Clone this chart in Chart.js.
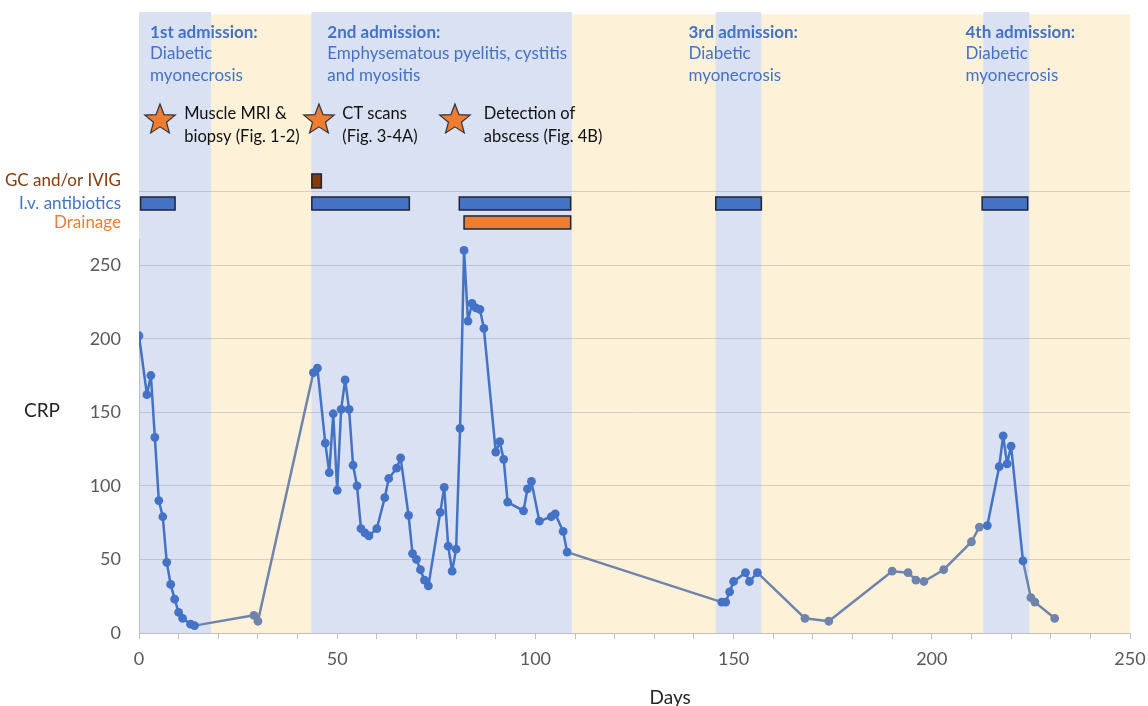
<!DOCTYPE html>
<html>
<head>
<meta charset="utf-8">
<script src="https://cdn.jsdelivr.net/npm/chart.js@4.4.0/dist/chart.umd.min.js"></script>
<style>
html,body{margin:0;padding:0;background:#ffffff;}
#wrap{width:1148px;height:706px;position:relative;}
</style>
</head>
<body>
<div id="wrap"><canvas id="c" width="1148" height="706"></canvas></div>
<script>
// ---------- DATA ----------
const days = [0,2,3,4,5,6,7,8,9,10,11,13,14,29,30,
  44,45,47,48,49,50,51,52,53,54,55,56,57,58,60,62,63,65,66,68,69,70,71,72,73,
  76,77,78,79,80,81,82,83,84,85,86,87,90,91,92,93,97,98,99,101,104,105,107,108,
  147,148,149,150,153,154,156,168,174,190,194,196,198,203,210,212,214,
  217,218,219,220,223,225,226,231];
const crp = [202,162,175,133,90,79,48,33,23,14,10,6,5,12,8,
  177,180,129,109,149,97,152,172,152,114,100,71,68,66,71,92,105,112,119,80,54,50,43,36,32,
  82,99,59,42,57,139,260,212,224,221,220,207,123,130,118,89,83,98,103,76,79,81,69,55,
  21,21,28,35,41,35,41,10,8,42,41,36,35,43,62,72,73,
  113,134,115,127,49,24,21,10];

const admissions = [[0,18.2],[43.5,109.2],[145.5,157],[213,224.6]];
const admissionTitles = ['1st admission:','2nd admission:','3rd admission:','4th admission:'];
const admissionDiagnoses = [
  ['Diabetic','myonecrosis'],
  ['Emphysematous pyelitis, cystitis','and myositis'],
  ['Diabetic','myonecrosis'],
  ['Diabetic','myonecrosis']
];
const eventDays = [5.3, 45.4, 79.7];
const eventLabels = [['Muscle MRI &','biopsy (Fig. 1-2)'],['CT scans','(Fig. 3-4A)'],['Detection of','abscess (Fig. 4B)']];

const treatmentNames = ['GC and/or IVIG','I.v. antibiotics','Drainage'];
const gcPeriods = [[43.6,46]];
const antibioticPeriods = [[0.4,9.1],[43.6,68.2],[80.8,108.9],[145.5,157],[212.7,224.2]];
const drainagePeriods = [[82,108.9]];

const yTickValues = [0,50,100,150,200,250,300];
const yTickLabels = ['0','50','100','150','200','250',''];
const xTickLabels = ['0','50','100','150','200','250'];

// ---------- STYLE / LAYOUT ----------
const FONT = 'Lato, "Open Sans", sans-serif';
const BLUE = '#4472C4';
const GREY = '#6F84AD';
const BAND_BLUE = '#DAE1F2';
const BAND_CREAM = '#FDF1D8';
const ORANGE = '#ED7D31';
const BROWN = '#843C0C';

function inAdmission(d){ return admissions.findIndex(([a,b]) => d >= a && d <= b); }

const points = days.map((d,i) => ({x:d, y:crp[i]}));

const annot = {
  id:'annot',
  beforeDraw(chart){
    const ctx = chart.ctx, xs = chart.scales.x, ys = chart.scales.y;
    const bottom = ys.getPixelForValue(0);
    const topBlue = ys.getPixelForValue(422);
    const topCream = ys.getPixelForValue(420.5);
    ctx.save();
    ctx.fillStyle = BAND_CREAM;
    const x0 = xs.getPixelForValue(admissions[0][1]);
    const x1 = xs.getPixelForValue(250);
    ctx.fillRect(x0, topCream, x1 - x0, bottom - topCream);
    ctx.fillStyle = BAND_BLUE;
    admissions.forEach(([a,b]) => {
      const pa = xs.getPixelForValue(a), pb = xs.getPixelForValue(b);
      ctx.fillRect(pa, topBlue, pb - pa, bottom - topBlue);
    });
    ctx.restore();
  },
  beforeDatasetsDraw(chart){
    const ctx = chart.ctx, xs = chart.scales.x, ys = chart.scales.y;
    ctx.save();
    // y axis line
    ctx.strokeStyle = '#BFBFBF'; ctx.lineWidth = 1;
    ctx.beginPath();
    const xl = Math.round(xs.getPixelForValue(0)) + 0.5;
    ctx.moveTo(xl, ys.getPixelForValue(0)); ctx.lineTo(xl, ys.getPixelForValue(268));
    ctx.stroke();

    // treatment bars
    const rows = [
      {periods: gcPeriods, y: 307.2, h: 14, fill: BROWN},
      {periods: antibioticPeriods, y: 291.9, h: 13, fill: BLUE},
      {periods: drainagePeriods, y: 279.0, h: 13, fill: ORANGE}
    ];
    rows.forEach(r => {
      const yc = ys.getPixelForValue(r.y);
      r.periods.forEach(([a,b]) => {
        const pa = xs.getPixelForValue(a), pb = xs.getPixelForValue(b);
        ctx.fillStyle = r.fill;
        ctx.fillRect(pa, yc - r.h/2, pb - pa, r.h);
        ctx.strokeStyle = '#1E2533'; ctx.lineWidth = 1.5;
        ctx.strokeRect(pa, yc - r.h/2, pb - pa, r.h);
      });
    });

    // treatment labels
    const labelColors = [BROWN, BLUE, ORANGE];
    const labelVals = [307.2, 291.9, 279.0];
    ctx.font = '17px ' + FONT;
    ctx.textAlign = 'right'; ctx.textBaseline = 'middle';
    treatmentNames.forEach((t,i) => {
      ctx.fillStyle = labelColors[i];
      ctx.fillText(t, chart.chartArea.left - 18, ys.getPixelForValue(labelVals[i]));
    });

    // admission texts
    const textDays = [2.8, 47.5, 138.6, 208.5];
    const titleVal = 404.7, step = 14.61;
    ctx.textAlign = 'left'; ctx.textBaseline = 'alphabetic';
    admissionTitles.forEach((t,i) => {
      const px = xs.getPixelForValue(textDays[i]);
      ctx.fillStyle = BLUE;
      ctx.font = 'bold 17px ' + FONT;
      ctx.fillText(t, px, ys.getPixelForValue(titleVal));
      ctx.font = '17px ' + FONT;
      admissionDiagnoses[i].forEach((line,j) => {
        ctx.fillText(line, px, ys.getPixelForValue(titleVal - step*(j+1)));
      });
    });

    // event stars
    const eventTextDays = [11.4, 51.3, 87.0];
    eventDays.forEach((d,i) => {
      const cx = xs.getPixelForValue(d), cy = ys.getPixelForValue(348.6);
      const R = 16, r = 6.8;
      ctx.beginPath();
      for (let k = 0; k < 10; k++) {
        const ang = -Math.PI/2 + k*Math.PI/5;
        const rad = (k % 2) ? r : R;
        ctx.lineTo(cx + rad*Math.cos(ang), cy + rad*Math.sin(ang));
      }
      ctx.closePath();
      ctx.fillStyle = ORANGE; ctx.fill();
      ctx.strokeStyle = '#2F3440'; ctx.lineWidth = 1.2; ctx.lineJoin = 'miter'; ctx.stroke();
      ctx.fillStyle = '#111111';
      ctx.font = '16.5px ' + FONT;
      const tx = xs.getPixelForValue(eventTextDays[i]);
      ctx.fillText(eventLabels[i][0], tx, ys.getPixelForValue(349));
      ctx.fillText(eventLabels[i][1], tx, ys.getPixelForValue(333.7));
    });

    // axis titles
    ctx.fillStyle = '#262626';
    ctx.font = '19px ' + FONT;
    ctx.textAlign = 'center'; ctx.textBaseline = 'middle';
    ctx.fillText('CRP', 42, ys.getPixelForValue(151));
    ctx.textBaseline = 'alphabetic';
    ctx.fillText('Days', xs.getPixelForValue(134), 704);
    ctx.restore();
  }
};

new Chart(document.getElementById('c'), {
  type: 'scatter',
  data: {
    datasets: [{
      data: points,
      showLine: true,
      borderWidth: 2.5,
      borderJoinStyle: 'round',
      borderCapStyle: 'round',
      pointRadius: 4.4,
      pointHoverRadius: 4.4,
      pointBorderWidth: 0,
      pointBackgroundColor: ctx => inAdmission(ctx.raw ? ctx.raw.x : 0) >= 0 ? BLUE : GREY,
      pointBorderColor: ctx => inAdmission(ctx.raw ? ctx.raw.x : 0) >= 0 ? BLUE : GREY,
      borderColor: BLUE,
      segment: {
        borderColor: ctx => {
          const a = inAdmission(ctx.p0.parsed.x), b = inAdmission(ctx.p1.parsed.x);
          return (a >= 0 && a === b) ? BLUE : GREY;
        }
      }
    }]
  },
  options: {
    responsive: false,
    animation: false,
    layout: { padding: { top: 15, right: 18, bottom: 0, left: 0 } },
    plugins: { legend: { display: false }, tooltip: { enabled: false }, title: { display: false } },
    scales: {
      x: {
        type: 'linear', min: 0, max: 250,
        afterFit: s => { s.height = 73; s.paddingLeft = 0; s.paddingRight = 0; },
        afterBuildTicks: s => {
          const t = [];
          for (let v = 0; v <= 250; v += 10) t.push({ value: v });
          s.ticks = t;
        },
        ticks: {
          autoSkip: false, maxRotation: 0, padding: 9,
          color: '#595959', font: { family: FONT, size: 18 },
          callback: v => xTickLabels.includes(String(v)) ? String(v) : ''
        },
        grid: { drawOnChartArea: false, drawTicks: true, tickLength: 6, color: '#BFBFBF' },
        border: { display: true, color: '#BFBFBF', width: 1 }
      },
      y: {
        type: 'linear', min: 0, max: 420,
        afterFit: s => { s.width = 139; s.paddingTop = 0; s.paddingBottom = 0; },
        afterBuildTicks: s => { s.ticks = yTickValues.map(v => ({ value: v })); },
        ticks: {
          padding: 18, color: '#595959', font: { family: FONT, size: 18 },
          callback: v => { const i = yTickValues.indexOf(v); return i >= 0 ? yTickLabels[i] : ''; }
        },
        grid: { drawTicks: false, color: 'rgba(120,120,120,0.28)', lineWidth: 1 },
        border: { display: false }
      }
    }
  },
  plugins: [annot]
});
</script>
</body>
</html>
